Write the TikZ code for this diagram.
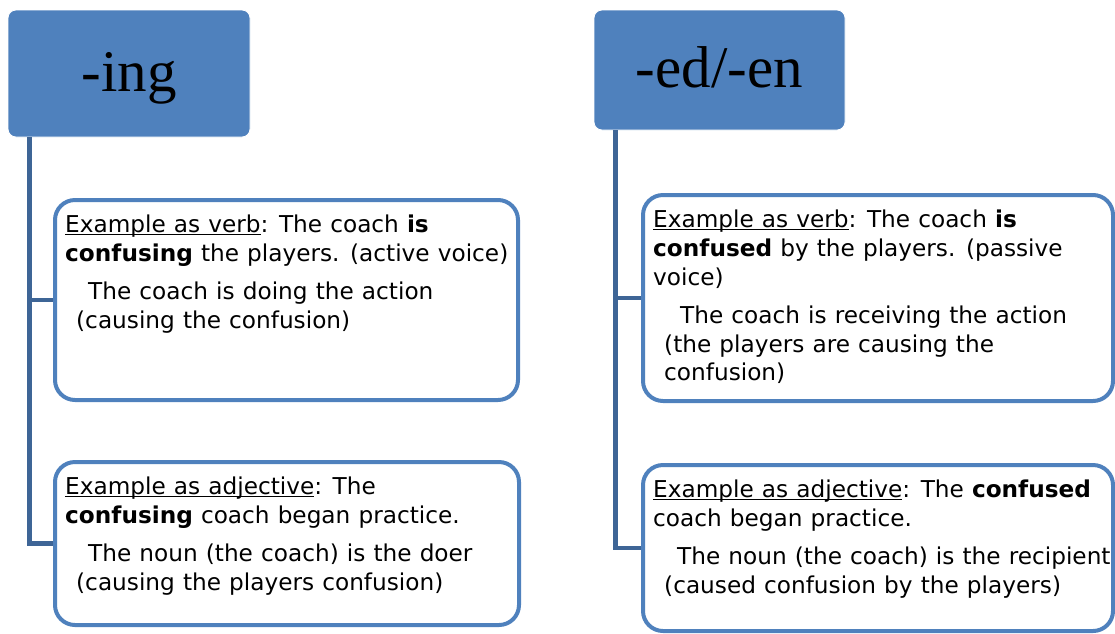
\documentclass[tikz,border=0pt]{standalone}
\usepackage{fontspec}
\setmainfont{DejaVu Sans}[WordSpace=1.1]
\newfontfamily\headfont{Liberation Serif}
\definecolor{boxblue}{RGB}{79,129,189}
\definecolor{linkblue}{RGB}{62,101,150}
\newcommand{\lineunder}[1]{\setbox0=\hbox{#1}\rlap{\rule[-2.4pt]{\wd0}{1.3pt}}#1}

\begin{document}
\begin{tikzpicture}[x=1pt,y=-1pt,
  head/.style={rounded corners=8pt,fill=boxblue,draw=white,line width=0.8pt,font=\headfont\fontsize{59}{60}\selectfont,text height=40pt,text depth=5pt},
  card/.style={rounded corners=20pt,draw=boxblue,line width=4pt,fill=white},
  words/.style={anchor=north west,inner sep=0pt,align=left,font=\fontsize{23.2}{28.8}\selectfont},
  link/.style={draw=linkblue,line width=4.5pt}]
\useasboundingbox (0,0) rectangle (1115,633);
\clip (0,0) rectangle (1115,633);
\node[head,minimum width=242,minimum height=127] (ing) at (129,73.5) {-ing};
\node[head,minimum width=251,minimum height=120] (eden) at (719.5,70) {-ed/-en};
\node[card,minimum width=463,minimum height=200] (verbing) at (286.5,300) {};
\node[card,minimum width=464,minimum height=163] (adjing) at (287,543.5) {};
\node[card,minimum width=470,minimum height=206] (verbed) at (878,298) {};
\node[card,minimum width=470,minimum height=166] (adjed) at (878,548) {};
\coordinate (trunking) at ([xshift=22pt]ing.south west);
\coordinate (trunked) at ([xshift=22pt]eden.south west);
\draw[link] (trunking) |- (verbing.west);
\draw[link] (trunking) |- (adjing.west);
\draw[link] (trunked) |- (verbed.west);
\draw[link] (trunked) |- (adjed.west);
\node[words] (verbingtext) at ([xshift=12pt,yshift=-17pt]verbing.north west) {\lineunder{Example as verb}: The coach \textbf{is}\\ \textbf{confusing} the players. (active voice)\\[9pt] \hspace*{23pt}The coach is doing the action\\ \hspace*{11pt}(causing the confusion)};
\node[words] (adjingtext) at ([xshift=12pt,yshift=-17pt]adjing.north west) {\lineunder{Example as adjective}: The\\ \textbf{confusing} coach began practice.\\[9pt] \hspace*{23pt}The noun (the coach) is the doer\\ \hspace*{11pt}(causing the players confusion)};
\node[words] (verbedtext) at ([xshift=12pt,yshift=-17pt]verbed.north west) {\lineunder{Example as verb}: The coach \textbf{is}\\ \textbf{confused} by the players. (passive\\ voice)\\[9pt] \hspace*{27pt}The coach is receiving the action\\ \hspace*{11pt}(the players are causing the\\ \hspace*{11pt}confusion)};
\node[words] (adjedtext) at ([xshift=12pt,yshift=-17pt]adjed.north west) {\lineunder{Example as adjective}: The \textbf{confused}\\ coach began practice.\\[9pt] \hspace*{24pt}The noun (the coach) is the recipient\\ \hspace*{11pt}(caused confusion by the players)};
\end{tikzpicture}
\end{document}
